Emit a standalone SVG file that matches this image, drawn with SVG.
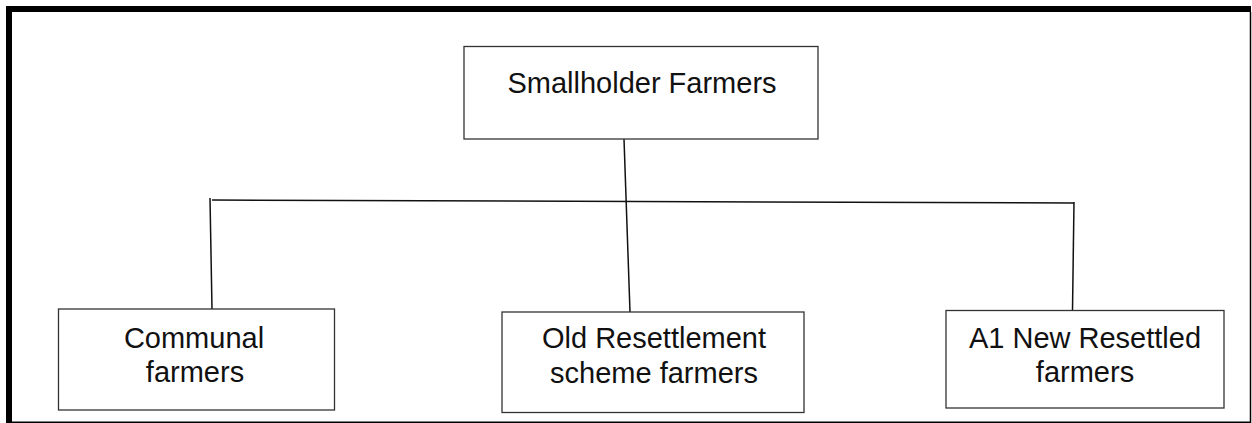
<svg xmlns="http://www.w3.org/2000/svg" width="1252" height="423" viewBox="0 0 1252 423">
<style>
.box{fill:#fff;stroke:#333;stroke-width:1.3}
.t{font-family:"Liberation Sans",Arial,sans-serif;font-size:29px;fill:#111;text-anchor:middle}
.c{stroke:#111;stroke-width:1.5;fill:none}
</style>
<rect x="0" y="0" width="1252" height="423" fill="#fff"/>
<g id="frame">
<line x1="6" y1="9" x2="1251" y2="9" stroke="#000" stroke-width="6"/>
<line x1="9" y1="6" x2="9" y2="423" stroke="#000" stroke-width="6"/>
<line x1="1250.5" y1="12" x2="1250.5" y2="423" stroke="#000" stroke-width="1.5"/>
<line x1="12" y1="422.3" x2="1251" y2="422.3" stroke="#000" stroke-width="1.5"/>
</g>
<g id="connectors">
<line class="c" x1="624" y1="139" x2="630" y2="312"/>
<line class="c" x1="212" y1="200" x2="1074" y2="203"/>
<line class="c" x1="210" y1="198" x2="212" y2="309"/>
<line class="c" x1="1074" y1="202" x2="1072.5" y2="310"/>
</g>
<g id="smallholder">
<rect class="box" x="464" y="46.5" width="354" height="92.5"/>
<text class="t" x="642" y="93">Smallholder Farmers</text>
</g>
<g id="communal">
<rect class="box" x="58.5" y="309" width="276" height="101"/>
<text class="t" x="194" y="347.5">Communal</text>
<text class="t" x="195" y="381.5">farmers</text>
</g>
<g id="old-resettlement">
<rect class="box" x="502" y="312" width="302" height="100.5"/>
<text class="t" x="654" y="348">Old Resettlement</text>
<text class="t" x="654" y="382.5">scheme farmers</text>
</g>
<g id="a1-new">
<rect class="box" x="946" y="310.5" width="278" height="97.5"/>
<text class="t" x="1085" y="347.5">A1 New Resettled</text>
<text class="t" x="1085" y="381.5">farmers</text>
</g>
</svg>
